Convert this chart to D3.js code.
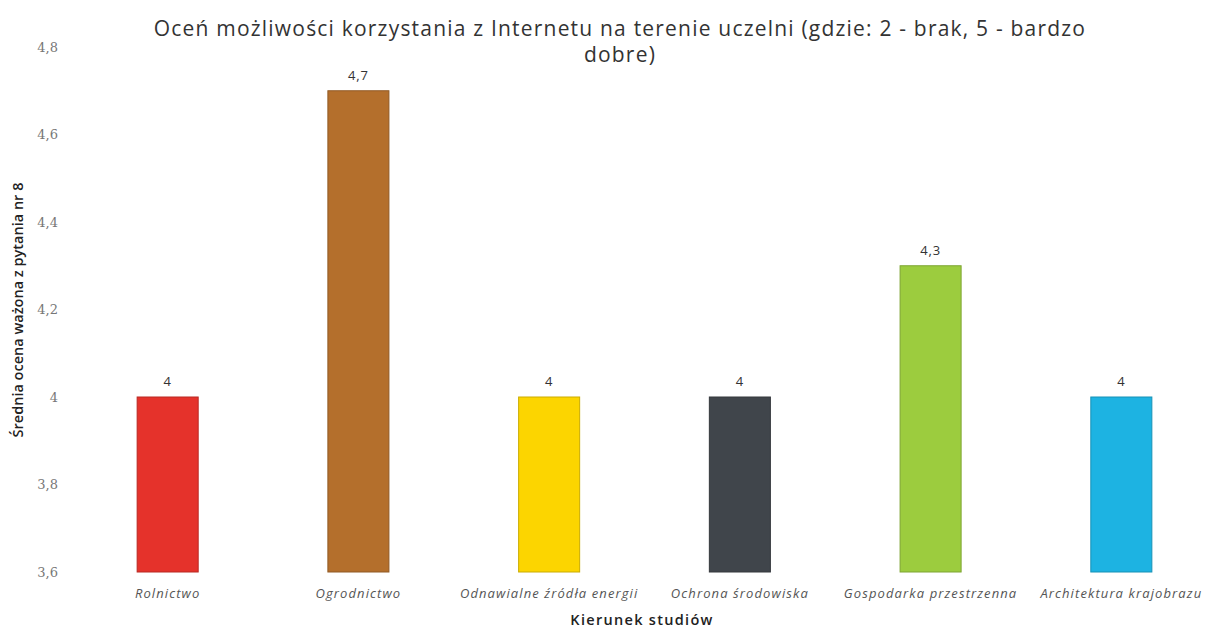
<!DOCTYPE html>
<html>
<head>
<meta charset="utf-8">
<script src="https://cdn.jsdelivr.net/npm/d3@7"></script>
<style>
  body { margin: 0; background: #fff; }
  text { font-family: "Open Sans", "Noto Sans", sans-serif; }
</style>
</head>
<body>
<div id="canvas"></div>
<script>
// -------------------------------------------- Data
const categories = [
  "Rolnictwo",
  "Ogrodnictwo",
  "Odnawialne źródła energii",
  "Ochrona środowiska",
  "Gospodarka przestrzenna",
  "Architektura krajobrazu"
];
const values = [4, 4.7, 4, 4, 4.3, 4];
const valueLabels = ["4", "4,7", "4", "4", "4,3", "4"];
const colors = ["#e5322b", "#b46f2c", "#fcd500", "#40454b", "#9ccc3e", "#1db3e2"];
const yTicks = [3.6, 3.8, 4, 4.2, 4.4, 4.6, 4.8];

const titleLines = [
  "Oceń możliwości korzystania z Internetu na terenie uczelni (gdzie: 2 - brak, 5 - bardzo",
  "dobre)"
];

// -------------------------------------------- Dimensiones
const width = 1210;
const height = 628;

const svg = d3.select("#canvas").append("svg")
  .attr("width", width)
  .attr("height", height);

// -- Escalas
const x = d3.scaleBand()
  .domain(categories)
  .range([99, 1190])
  .paddingInner(0.68)
  .paddingOuter(0.2);

const y = d3.scaleLinear().domain([3.6, 4.8]).range([572, 47]);

// -- Eje Y
const yAxis = svg.append("g")
  .attr("transform", "translate(58,0)")
  .call(d3.axisLeft(y).tickValues(yTicks).tickSize(0).tickPadding(0)
    .tickFormat(d => d3.format(".1f")(d).replace(".", ",").replace(",0", "")));
yAxis.select(".domain").remove();
yAxis.selectAll("text")
  .attr("fill", "#777")
  .style("font-family", "'DejaVu Serif', serif")
  .style("font-size", "13px");

// -- Eje X
const xAxis = svg.append("g")
  .attr("transform", "translate(0,589)")
  .call(d3.axisBottom(x).tickSize(0).tickPadding(0));
xAxis.select(".domain").remove();
xAxis.selectAll("text")
  .attr("fill", "#555")
  .style("font-style", "italic")
  .style("font-size", "13px")
  .style("letter-spacing", "1.1px");

// -- Barras
svg.selectAll("rect.bar")
  .data(values)
  .enter()
  .append("rect")
  .attr("class", "bar")
  .attr("x", (d, i) => x(categories[i]))
  .attr("y", d => y(d))
  .attr("width", x.bandwidth())
  .attr("height", d => y(3.6) - y(d))
  .attr("fill", (d, i) => colors[i])
  .attr("stroke", (d, i) => d3.color(colors[i]).darker(0.6))
  .attr("stroke-width", 1);

// -- Etiquetas de datos
svg.selectAll("text.lbl")
  .data(values)
  .enter()
  .append("text")
  .attr("class", "lbl")
  .attr("x", (d, i) => x(categories[i]) + x.bandwidth() / 2)
  .attr("y", d => y(d) - 11)
  .attr("text-anchor", "middle")
  .attr("fill", "#333")
  .style("font-size", "13px")
  .style("letter-spacing", "0.8px")
  .text((d, i) => valueLabels[i]);

// -- Titulo
svg.append("text")
  .attr("x", 620)
  .attr("y", 36)
  .attr("text-anchor", "middle")
  .attr("fill", "#333")
  .style("font-size", "21px")
  .style("letter-spacing", "1.2px")
  .selectAll("tspan")
  .data(titleLines)
  .enter()
  .append("tspan")
  .attr("x", 620)
  .attr("dy", (d, i) => (i === 0 ? 0 : 26))
  .text(d => d);

// -- Titulos de ejes
svg.append("text")
  .attr("transform", "translate(23,310) rotate(-90)")
  .attr("text-anchor", "middle")
  .attr("fill", "#222")
  .style("font-size", "14.5px")
  .style("font-weight", "600")
  .text("Średnia ocena ważona z pytania nr 8");

svg.append("text")
  .attr("x", 642)
  .attr("y", 625)
  .attr("text-anchor", "middle")
  .attr("fill", "#222")
  .style("font-size", "14.5px")
  .style("font-weight", "600")
  .style("letter-spacing", "1.3px")
  .text("Kierunek studiów");
</script>
</body>
</html>
